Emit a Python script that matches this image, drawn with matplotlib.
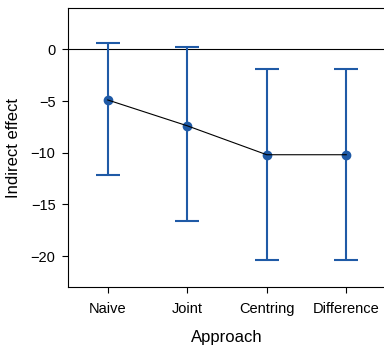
import matplotlib

matplotlib.use("Agg")

import matplotlib.pyplot as plt

approaches = ["Naive", "Joint", "Centring", "Difference"]
estimates = [-4.9, -7.4, -10.2, -10.2]
lower = [-12.2, -16.6, -20.4, -20.4]
upper = [0.6, 0.2, -1.9, -1.9]

blue = "#1f5aa6"

plt.rcParams["font.family"] = ["Liberation Sans", "DejaVu Sans"]

fig = plt.figure(figsize=(3.84, 3.49), dpi=100)
ax = fig.add_axes([68 / 384, 62 / 349, 318 / 384, 279 / 349])

positions = list(range(1, len(approaches) + 1))
yerr = [
    [e - lo for e, lo in zip(estimates, lower)],
    [hi - e for e, hi in zip(estimates, upper)],
]

ax.axhline(0, color="black", linewidth=0.8)
ax.plot(positions, estimates, color="black", linewidth=0.8, zorder=3)
ax.errorbar(
    positions,
    estimates,
    yerr=yerr,
    fmt="o",
    color=blue,
    markersize=6,
    elinewidth=1.5,
    capsize=8.5,
    capthick=1.5,
    zorder=2,
)

ax.set_xlim(0.5, 4.5)
ax.set_ylim(-23, 4)
ax.set_xticks(positions)
ax.set_xticklabels(approaches)
ax.set_yticks([0, -5, -10, -15, -20])
ax.tick_params(labelsize=10.5, length=4, width=0.8, pad=7)
ax.tick_params(axis="y", pad=5)

ax.spines["right"].set_visible(False)
for side in ["left", "bottom", "top"]:
    ax.spines[side].set_linewidth(0.8)

ax.set_xlabel("Approach", fontsize=12, labelpad=10)
ax.set_ylabel("Indirect effect", fontsize=12, labelpad=7)

fig.savefig("out.png", dpi=100)
